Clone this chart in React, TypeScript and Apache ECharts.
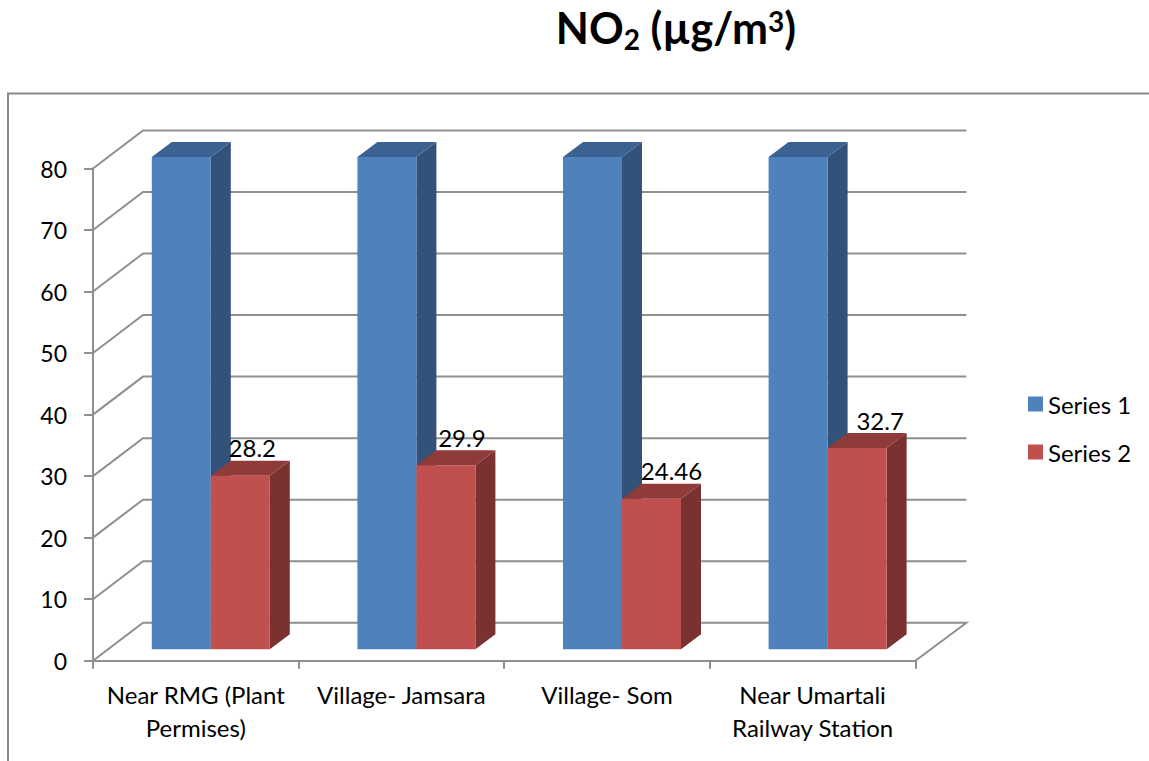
import React, { useEffect, useRef } from "react";
import * as echarts from "echarts";

const titleParts = ["NO", "2", " (µg/m", "3", ")"];
const categories = ["Near RMG (Plant\nPermises)", "Village- Jamsara", "Village- Som", "Near Umartali\nRailway Station"];
const series1Values = [80, 80, 80, 80];
const series2Values = [28.2, 29.9, 24.46, 32.7];
const yTicks = [0, 10, 20, 30, 40, 50, 60, 70, 80];

const FONT = "Lato, Carlito, sans-serif";
const GREY = "#8f8f8f";
const WALL_DX = 50;
const WALL_DY = -38;
const FLOOR_EXTRA = 51;
const BAR_DX = 20;
const BAR_DY = -15;
const BAR_SHIFT_X = 15;
const BAR_SHIFT_Y = -11.4;
const BAR_W = 59;
const LABEL_DX = [12, 16, 20, 23];

const wallRender = (params: any, api: any) => {
  const y = api.coord([0, api.value(1)])[1];
  const cs = params.coordSys;
  const x0 = cs.x;
  const x1 = cs.x + cs.width;
  const pts: number[][] = [
    [x0, y],
    [x0 + WALL_DX, y + WALL_DY],
    [x1 + FLOOR_EXTRA, y + WALL_DY],
  ];
  if (api.value(1) === 0) pts.push([x1, y]);
  return {
    type: "polyline",
    shape: { points: pts },
    style: { stroke: GREY, lineWidth: 2, fill: "none" },
    silent: true,
  };
};

const barRender = (side: -1 | 1, front: string, dark: string, top: string, showLabel: boolean) => (_p: any, api: any) => {
  const idx = api.value(0);
  const val = api.value(1);
  const [cx, yTop0] = api.coord([idx, val]);
  const yBase0 = api.coord([idx, 0])[1];
  const yTop = yTop0 + BAR_SHIFT_Y;
  const yBase = yBase0 + BAR_SHIFT_Y;
  const xMid = cx + BAR_SHIFT_X;
  const xl = side < 0 ? xMid - BAR_W : xMid;
  const xr = xl + BAR_W;
  const children: any[] = [
    {
      type: "polygon",
      shape: { points: [[xr, yTop], [xr + BAR_DX, yTop + BAR_DY], [xr + BAR_DX, yBase + BAR_DY], [xr, yBase]] },
      style: { fill: dark },
    },
    {
      type: "polygon",
      shape: { points: [[xl, yTop], [xl + BAR_DX, yTop + BAR_DY], [xr + BAR_DX, yTop + BAR_DY], [xr, yTop]] },
      style: { fill: top },
    },
    {
      type: "rect",
      shape: { x: xl, y: yTop, width: BAR_W, height: yBase - yTop },
      style: { fill: front },
    },
  ];
  if (showLabel) {
    children.push({
      type: "text",
      style: {
        text: String(val),
        x: xl + BAR_W / 2 + LABEL_DX[idx],
        y: yTop - 28,
        align: "center",
        verticalAlign: "middle",
        fontSize: 24,
        fontFamily: FONT,
        fill: "#000",
      },
      z2: 10,
    });
  }
  return { type: "group", children };
};

export default function App() {
  const ref = useRef<HTMLDivElement>(null);
  useEffect(() => {
    const chart = echarts.init(ref.current!, null, { renderer: "svg" });
    chart.setOption({
      animation: false,
      backgroundColor: "#fff",
      title: {
        text: `{a|${titleParts[0]}}{s|${titleParts[1]}}{a|${titleParts[2]}}{u|${titleParts[3]}}{a|${titleParts[4]}}`,
        left: 671,
        top: -4,
        textAlign: "center",
        textStyle: {
          rich: {
            a: { fontSize: 43, fontWeight: "bold", fontFamily: FONT, color: "#000", lineHeight: 52 },
            s: { fontSize: 28, fontWeight: "bold", fontFamily: FONT, color: "#000", lineHeight: 52, verticalAlign: "bottom" },
            u: { fontSize: 28, fontWeight: "bold", fontFamily: FONT, color: "#000", lineHeight: 30, padding: [6, 0, 0, 0], verticalAlign: "top" },
          },
        },
      },
      graphic: [
        {
          type: "polyline",
          shape: { points: [[8, 761], [8, 93.5], [1149, 93.5]] },
          style: { stroke: "#8a8a8a", lineWidth: 2, fill: "none" },
          silent: true,
        },
      ],
      legend: {
        orient: "vertical",
        left: 1023,
        top: 387,
        itemWidth: 15,
        itemHeight: 15,
        itemGap: 24,
        icon: "rect",
        data: ["Series 1", "Series 2"],
        textStyle: { fontSize: 24, fontFamily: FONT, color: "#000" },
      },
      grid: { left: 93, top: 168.5, width: 822.4, height: 492.2 },
      xAxis: {
        type: "category",
        data: categories,
        axisLine: { lineStyle: { color: GREY, width: 2 } },
        axisTick: { show: true, length: 8, lineStyle: { color: GREY, width: 2 } },
        axisLabel: { fontSize: 24, fontFamily: FONT, color: "#000", margin: 17, lineHeight: 33, interval: 0 },
      },
      yAxis: {
        type: "value",
        min: 0,
        max: 80,
        interval: 10,
        axisLine: { show: true, lineStyle: { color: GREY, width: 2 } },
        axisTick: { show: true, length: 9, lineStyle: { color: GREY, width: 2 } },
        axisLabel: { fontSize: 23, fontFamily: FONT, color: "#000", margin: 26, padding: [4, 0, 0, 0] },
        splitLine: { show: false },
      },
      series: [
        {
          type: "custom",
          name: "walls",
          renderItem: wallRender,
          data: yTicks.map((v) => [0, v]),
          encode: { x: 0, y: 1 },
          silent: true,
          z: 1,
        },
        {
          type: "custom",
          name: "Series 1",
          renderItem: barRender(-1, "#4f81bd", "#325279", "#3c6292", false),
          data: series1Values.map((v, i) => [i, v]),
          encode: { x: 0, y: 1 },
          itemStyle: { color: "#4f81bd" },
          z: 2,
        },
        {
          type: "custom",
          name: "Series 2",
          renderItem: barRender(1, "#c0504d", "#7b3130", "#8f3b39", true),
          data: series2Values.map((v, i) => [i, v]),
          encode: { x: 0, y: 1 },
          itemStyle: { color: "#c0504d" },
          z: 3,
        },
      ],
    });
    return () => chart.dispose();
  }, []);
  return <div ref={ref} style={{ position: "absolute", left: 0, top: 0, width: 1149, height: 761 }} />;
}
